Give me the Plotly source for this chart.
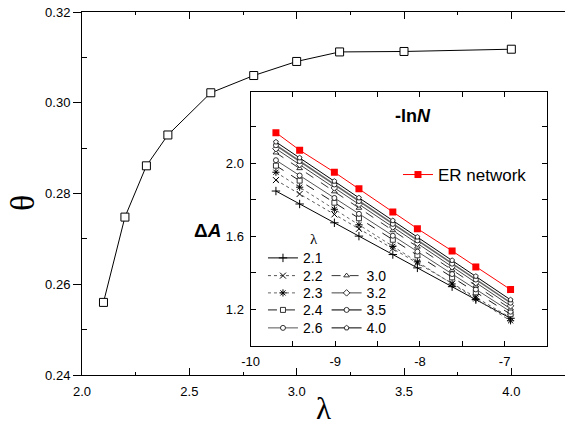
import plotly.graph_objects as go

# ---- main plot data ----
lam = [2.1, 2.2, 2.3, 2.4, 2.6, 2.8, 3.0, 3.2, 3.5, 4.0]
theta = [0.2560, 0.2748, 0.2861, 0.2929, 0.3022, 0.3060, 0.3091, 0.3112, 0.3113, 0.3118]

# ---- inset data ----
neg_lnN = [-9.70, -9.42, -9.01, -8.72, -8.32, -8.03, -7.62, -7.34, -6.93]
dA_ER = [2.169, 2.073, 1.952, 1.861, 1.734, 1.643, 1.521, 1.433, 1.309]
dA_21 = [1.849, 1.778, 1.675, 1.602, 1.501, 1.428, 1.325, 1.254, 1.152]
dA_22 = [1.909, 1.833, 1.721, 1.642, 1.534, 1.455, 1.343, 1.267, 1.155]
dA_23 = [1.952, 1.870, 1.749, 1.664, 1.546, 1.461, 1.340, 1.258, 1.138]
dA_24 = [1.988, 1.906, 1.785, 1.700, 1.582, 1.497, 1.376, 1.294, 1.174]
dA_26 = [2.018, 1.934, 1.811, 1.724, 1.604, 1.517, 1.394, 1.310, 1.188]
dA_30 = [2.059, 1.973, 1.846, 1.756, 1.633, 1.543, 1.416, 1.330, 1.204]
dA_32 = [2.081, 1.994, 1.866, 1.776, 1.652, 1.562, 1.434, 1.347, 1.220]
dA_35 = [2.100, 2.013, 1.885, 1.794, 1.669, 1.579, 1.451, 1.364, 1.237]
dA_40 = [2.118, 2.031, 1.903, 1.812, 1.687, 1.597, 1.469, 1.382, 1.253]

series_labels = ["2.1", "2.2", "2.3", "2.4", "2.6", "3.0", "3.2", "3.5", "4.0"]
series_values = [dA_21, dA_22, dA_23, dA_24, dA_26, dA_30, dA_32, dA_35, dA_40]

main_xticks = [2.0, 2.5, 3.0, 3.5, 4.0]
main_xtick_text = ["2.0", "2.5", "3.0", "3.5", "4.0"]
main_yticks = [0.24, 0.26, 0.28, 0.30, 0.32]
main_ytick_text = ["0.24", "0.26", "0.28", "0.30", "0.32"]
inset_xticks = [-10, -9.5, -9, -8.5, -8, -7.5, -7]
inset_xtick_text = ["-10", "", "-9", "", "-8", "", "-7"]
inset_yticks = [1.2, 1.4, 1.6, 1.8, 2.0, 2.2]
inset_ytick_text = ["1.2", "", "1.6", "", "2.0", ""]

styles = {
    "2.1": dict(symbol="cross-thin", dash="solid", lc="black", lw=1.0, fill=False),
    "2.2": dict(symbol="x-thin", dash="dot", lc="#555555", lw=1.0, fill=False),
    "2.3": dict(symbol="asterisk", dash="dot", lc="#666666", lw=1.0, fill=False),
    "2.4": dict(symbol="square", dash="dash", lc="black", lw=0.9, fill=True),
    "2.6": dict(symbol="circle", dash="solid", lc="#555555", lw=1.0, fill=True),
    "3.0": dict(symbol="triangle-up", dash="dash", lc="black", lw=0.8, fill=True),
    "3.2": dict(symbol="diamond", dash="solid", lc="#444444", lw=1.0, fill=True),
    "3.5": dict(symbol="circle", dash="solid", lc="#666666", lw=1.6, fill=True),
    "4.0": dict(symbol="pentagon", dash="solid", lc="black", lw=1.0, fill=True),
}

# legend placement (paper coords of the main plot area)
legend_pos = {
    "2.1": (0.3747, 0.3215), "2.2": (0.3747, 0.2727), "2.3": (0.3747, 0.2251),
    "2.4": (0.3747, 0.1782), "2.6": (0.3747, 0.1287),
    "3.0": (0.5064, 0.2727), "3.2": (0.5064, 0.2251), "3.5": (0.5064, 0.1782),
    "4.0": (0.5064, 0.1287), "ER network": (0.6542, 0.5510),
}

fig = go.Figure()

fig.add_trace(go.Scatter(
    x=lam, y=theta, mode="lines+markers", showlegend=False,
    line=dict(color="black", width=1),
    marker=dict(symbol="square", size=8, color="white", line=dict(color="black", width=1)),
    xaxis="x", yaxis="y"))

legend_layouts = {}
for i, (lab, vals) in enumerate(zip(series_labels, series_values)):
    s = styles[lab]
    if s["fill"]:
        mk = dict(symbol=s["symbol"], size=5, color="white", line=dict(color="black", width=0.8))
    else:
        mk = dict(symbol=s["symbol"], size=6, color="black", line=dict(color="black", width=1))
    lname = "legend" if i == 0 else f"legend{i + 1}"
    fig.add_trace(go.Scatter(
        x=neg_lnN, y=vals, mode="lines+markers", name=lab,
        line=dict(color=s["lc"], width=s["lw"], dash=s["dash"]),
        marker=mk, xaxis="x2", yaxis="y2", legend=lname))
    lx, ly = legend_pos[lab]
    legend_layouts[lname] = dict(x=lx, y=ly, xanchor="left", yanchor="middle",
                                 bgcolor="rgba(0,0,0,0)", font=dict(size=14))

fig.add_trace(go.Scatter(
    x=neg_lnN, y=dA_ER, mode="lines+markers", name="ER network",
    line=dict(color="red", width=1),
    marker=dict(symbol="square", size=7, color="red", line=dict(width=0)),
    xaxis="x2", yaxis="y2", legend="legend10"))
lx, ly = legend_pos["ER network"]
legend_layouts["legend10"] = dict(x=lx, y=ly, xanchor="left", yanchor="middle",
                                  bgcolor="rgba(0,0,0,0)", font=dict(size=17))

axis_common = dict(showgrid=False, zeroline=False, showline=True, linecolor="black",
                   linewidth=1, tickcolor="black",
                   tickfont=dict(family="Liberation Sans, Arial", size=13, color="black"))

fig.update_layout(
    width=565, height=428,
    margin=dict(l=82, r=0, t=12, b=53),
    paper_bgcolor="white", plot_bgcolor="white",
    font=dict(family="Liberation Sans, Arial", color="black"),
    xaxis=dict(domain=[0, 1], range=[2.0, 4.25], anchor="y",
               tickvals=main_xticks, ticktext=main_xtick_text,
               ticks="inside", ticklen=7, mirror="ticks", ticklabelstandoff=4,
               minor=dict(tickvals=[2.25, 2.75, 3.25, 3.75], ticks="inside", ticklen=3,
                          tickcolor="black", showgrid=False),
               **axis_common),
    yaxis=dict(domain=[0, 1], range=[0.24, 0.32], anchor="x",
               tickvals=main_yticks, ticktext=main_ytick_text,
               ticks="outside", ticklen=8, mirror=False,
               minor=dict(tickvals=[0.25, 0.27, 0.29, 0.31], ticks="inside", ticklen=5,
                          tickcolor="black", showgrid=False),
               **axis_common),
    yaxis3=dict(overlaying="y", side="right", anchor="x", range=[0.24, 0.32],
                tickvals=main_yticks, ticks="inside", ticklen=6, showticklabels=False,
                showgrid=False, zeroline=False, showline=False, tickcolor="black",
                minor=dict(tickvals=[0.25, 0.27, 0.29, 0.31], ticks="inside", ticklen=3,
                           tickcolor="black", showgrid=False)),
    xaxis2=dict(domain=[0.3489, 0.9627], range=[-10, -6.5], anchor="y2",
                tickvals=inset_xticks, ticktext=inset_xtick_text,
                ticks="inside", ticklen=5, mirror="ticks", ticklabelstandoff=3,
                **axis_common),
    yaxis2=dict(domain=[0.0799, 0.7788], range=[1.0, 2.39], anchor="x2",
                tickvals=inset_yticks, ticktext=inset_ytick_text,
                ticks="inside", ticklen=5, mirror="ticks", ticklabelstandoff=3,
                **axis_common),
    annotations=[
        dict(text="θ", xref="paper", yref="paper", x=-0.122, y=0.474, showarrow=False,
             textangle=-90, font=dict(family="Liberation Serif", size=34),
             xanchor="center", yanchor="middle"),
        dict(text="λ", xref="paper", yref="paper", x=0.4997, y=-0.146, showarrow=False,
             font=dict(family="Liberation Serif", size=31), xanchor="center", yanchor="bottom"),
        dict(text="λ", xref="paper", yref="paper", x=0.4793, y=0.3747, showarrow=False,
             font=dict(family="Liberation Serif", size=15), xanchor="center", yanchor="middle"),
        dict(text="<b>Δ<i>A</i></b>", xref="paper", yref="paper", x=0.2588, y=0.3994,
             showarrow=False, font=dict(size=19), xanchor="center", yanchor="middle"),
        dict(text="<b>-ln<i>N</i></b>", xref="paper", yref="paper", x=0.6845, y=0.7143,
             showarrow=False, font=dict(size=18), xanchor="center", yanchor="middle"),
    ],
)
fig.update_layout(**legend_layouts)

fig.write_html("out.html", config={"displayModeBar": False},
               post_script="document.body.style.margin='0';")
